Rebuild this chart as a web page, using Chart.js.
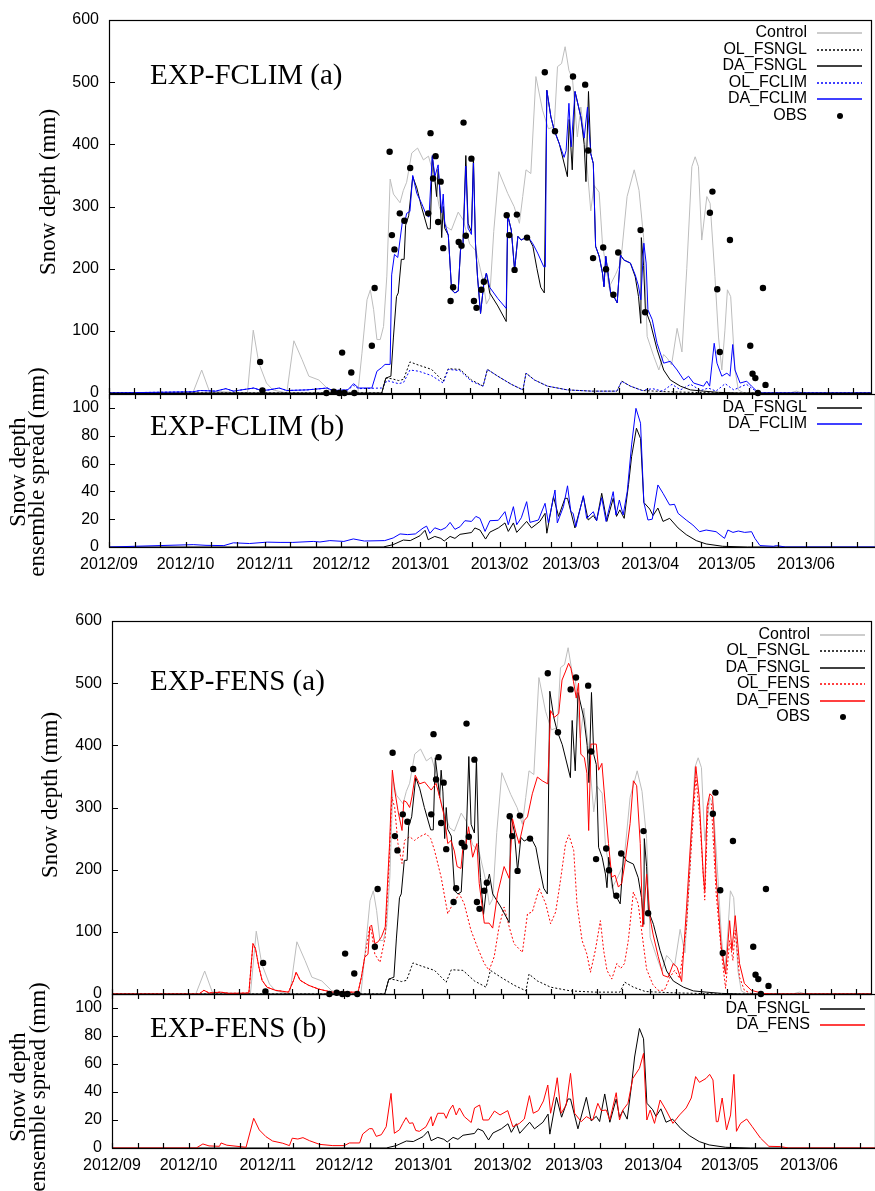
<!DOCTYPE html>
<html>
<head>
<meta charset="utf-8">
<script src="https://cdn.jsdelivr.net/npm/chart.js@4.4.0/dist/chart.umd.min.js"></script>
<style>
  html, body { margin: 0; padding: 0; background: #fff; }
  #wrap { position: relative; width: 875px; height: 1191px; overflow: hidden; }
  canvas { position: absolute; left: 0; }
</style>
</head>
<body>
<div id="wrap">
  <canvas id="c1" width="875" height="404" style="top:0px"></canvas>
  <canvas id="c2" width="875" height="230" style="top:350px"></canvas>
  <canvas id="c3" width="875" height="405" style="top:600px"></canvas>
  <canvas id="c4" width="875" height="231" style="top:960px"></canvas>
</div>
<script>
/* x = days since 2012-09-01, y = mm */
const monthStarts = [0, 30, 61, 91, 122, 153, 181, 212, 242, 273, 303];
const monthLabels = ['2012/09', '2012/10', '2012/11', '2012/12', '2013/01', '2013/02',
                     '2013/03', '2013/04', '2013/05', '2013/06', '2013/07'];
const depthTicks  = [0, 100, 200, 300, 400, 500, 600];
const spreadTicks = [0, 20, 40, 60, 80, 100];

/* ── snow depth (a) ── */
const control = [[0,0],[33,0],[36.5,37],[39.5,3],[54.5,0],[56.8,101],[59,48],[62,16],[64.5,5],[70,0],
  [72.8,84],[76,54],[78.7,27],[82.6,21],[86.6,5],[98,0],[99.6,64],[101.6,150],[102.9,166],[104.2,134],
  [105.5,86],[106.8,86],[108.1,107],[109.4,188],[110.7,344],[112,320],[114.6,306],[115.9,326],[117.2,339],
  [119.2,386],[121.5,394],[123.8,375],[125.8,381],[127.7,353],[130,300],[133,267],[134.8,262],[137.5,291],
  [139.5,278],[142,240],[144.6,228],[147.3,180],[148.6,143],[149.9,153],[151.5,260],[153.5,356],[157,321],
  [159.5,300],[161.6,273],[162.9,316],[164.2,359],[166.1,353],[168.1,509],[170.7,455],[173,425],[175.3,428],
  [176.6,525],[178.2,530],[179.6,557],[181.1,519],[182.5,505],[184.4,412],[185.8,460],[187.5,400],[189.7,293],
  [191,334],[193,323],[194.3,240],[196.9,170],[199.5,191],[201.5,210],[204,316],[206.8,359],[208.7,326],
  [210.5,250],[211.9,91],[214.5,59],[216.5,37],[218.4,62],[220,55],[221.5,45],[223.7,104],[225.6,66],
  [227.5,200],[229.5,364],[230.8,380],[232.1,364],[233.4,246],[235.4,316],[236.7,305],[238.6,187],[240,90],
  [241.3,37],[242.5,100],[243.5,166],[244.8,155],[246.5,37],[247.8,5],[250,0],[268,0],[270.7,3],[273,0],[300,0]];

const olFsngl = [[0,0],[107.4,0],[109,24],[111.3,23],[114,20],[116,22],[118.5,50],[121.8,45],[127,38],
  [131.6,19],[133.6,39],[138.2,38],[142.7,21],[147.3,11],[149,38],[153.1,27],[158.4,14],[163,5],[164.2,32],
  [167.5,21],[172.7,11],[180.5,5],[190,3],[200,3],[201.9,19],[205.3,11],[210,4],[220,2],[230,1],[240,0],[300,0]];

const daFsngl = [[0,0],[107.4,0],[109,24],[111,27],[112,90],[113.2,155],[113.9,161],[115.1,215],[116.2,215],
  [116.8,270],[118,285],[119.6,348],[121.2,330],[123,300],[125.5,264],[126.5,264],[127.3,380],[128.3,345],
  [129,316],[129.6,360],[130.3,325],[131,250],[131.6,300],[132.2,265],[133.6,254],[134.9,166],[136.2,161],
  [137.5,164],[138.4,230],[139.4,241],[140.5,382],[141.4,273],[142.7,259],[143.5,379],[144.3,241],[145.1,187],
  [146.3,128],[147.6,177],[148.6,193],[149.9,161],[153.1,140],[156.4,115],[157,286],[158.4,262],[159.7,198],
  [161,252],[162.3,246],[164.9,252],[166.9,236],[168.5,200],[170,170],[171.4,161],[172.4,487],[174,444],
  [175.3,423],[177.3,401],[180.5,348],[181.2,440],[182.4,359],[183.5,485],[185.8,444],[187.1,400],[187.8,340],
  [188.8,485],[189.7,385],[190.7,369],[191.6,236],[193,220],[194.3,193],[194.9,171],[195.6,220],[197.5,161],
  [198.8,155],[200.1,145],[201.4,222],[202.7,214],[205.3,209],[207.2,187],[208.5,155],[209.4,112],[209.6,250],
  [210.5,205],[211.2,134],[213.2,112],[215.8,70],[218.4,37],[221,21],[225,11],[228.9,5],[234,3],[240,1],
  [248,0],[300,0]];

const olFclim = [[0,0],[33,2],[36,4],[42,3],[46,7],[49,3],[57,8],[60,4],[63,5],[67,8],[70,4],[78,5],[86,8],
  [88,4],[94,5],[96.3,12],[98.3,7],[107.4,8],[109.5,20],[114,15],[116,17],[118.5,37],[122,35],[127,28],
  [131.6,16],[133.6,38],[138.2,36],[142.7,19],[147.3,11],[149,38],[153.1,27],[158.4,14],[163,5],[164.2,32],
  [167.5,21],[172.7,11],[180.5,5],[190,3],[200,3],[201.9,19],[205.3,11],[210,4],[214,7],[218,3],[221.7,14],
  [225,5],[229,14],[233,4],[236,8],[239,3],[242.6,15],[246,5],[251,14],[254,5],[256,0],[300,0]];

const daFclim = [[0,0],[33,2],[36,4],[42,3],[46,7],[49,3],[57,8],[60,4],[63,5],[67,8],[70,4],[78,5],[86,8],
  [88,4],[94,5],[96.3,15],[98.3,8],[103.5,8],[105.5,35],[107.4,41],[108.7,46],[110.7,46],[111.3,190],
  [112.4,223],[113.7,218],[115.5,275],[116.5,275],[117.2,289],[118.5,292],[119.6,350],[121.2,321],[123.1,305],
  [125,286],[126,283],[127.3,382],[128.3,348],[129.6,367],[130.3,325],[131,290],[131.6,320],[132.2,273],
  [133.6,254],[134.9,166],[136.2,161],[137.5,164],[138.4,230],[139.4,241],[140.5,365],[141.4,265],[142.7,255],
  [143.5,370],[144.3,241],[145.1,187],[146.3,128],[147.6,177],[148.6,193],[149.9,170],[153.1,152],[156.4,136],
  [157,286],[158.4,262],[159.7,198],[161,252],[162.3,246],[164.9,252],[166.9,240],[168.8,225],[171.2,203],
  [171.8,203],[172.4,487],[174,444],[175.3,423],[177.3,401],[179.2,379],[180,390],[181.1,466],[182,396],
  [183.5,485],[185.8,444],[187.1,410],[188.4,460],[189.7,385],[190.7,369],[191.6,236],[193,220],[194.3,193],
  [194.9,171],[195.6,220],[197.5,161],[198.8,155],[200.1,145],[201.4,222],[202.7,214],[205.3,209],[207.2,190],
  [208.5,172],[209.4,150],[210.6,241],[211.5,209],[212.2,134],[213.9,118],[215.8,80],[218.4,48],[221,51],
  [223.7,37],[226.3,21],[228.2,27],[230.2,16],[234.1,11],[235.4,19],[236.5,11],[238.3,80],[239.4,48],
  [241.3,27],[243.3,32],[244.5,27],[245.6,78],[246.5,37],[248.5,16],[251.1,19],[253,11],[255.6,1],[257,0],[300,0]];

const olFens = [[0,0],[34.3,0],[36.2,6],[38.2,1.6],[42.8,3],[46,1],[53.9,1.6],[55.5,81],[56.5,73],[57.8,44],
  [59.1,22],[61,11],[64.3,6],[69.5,3],[71.5,22],[72.5,35],[74.1,22],[77.4,14],[81.3,8],[86.5,3],[96.9,3],
  [98.2,27],[99.5,59],[101.5,108],[102.2,100],[103.5,64],[105.5,51],[107.6,92],[109,200],[110.2,317],
  [111.3,300],[112.6,242],[114.2,210],[115.2,247],[117.2,253],[119.1,247],[121.1,253],[123.7,258],[125.5,250],
  [127,231],[129.6,188],[132.2,129],[134.2,145],[136.8,161],[138.7,145],[141.3,103],[143.9,75],[146.6,49],
  [148.5,38],[150.5,60],[152.4,108],[154.4,140],[156.4,108],[158.3,81],[161.6,67],[163.6,129],[165.5,132],
  [168.2,170],[170.8,145],[172.7,113],[174.7,132],[176.6,183],[178.6,242],[179.9,256],[181.8,231],[183.1,145],
  [185.1,86],[187,64],[188.4,35],[190.3,70],[192.3,118],[193.6,70],[194.9,38],[196.8,24],[198.8,49],
  [200.3,41],[201.8,49],[203.3,86],[205.3,164],[207.2,145],[209.2,81],[210.5,40],[213,15],[215,6],[217.5,6],
  [219.7,27],[221.5,38],[223.5,25],[226.2,108],[228.2,242],[229.9,349],[231.4,285],[233.4,151],[234.7,306],
  [236,306],[237.9,161],[239.9,70],[241.6,9],[243.2,86],[244.5,54],[245.4,103],[247.1,27],[249,6],[252,0],[300,0]];

const daFens = [[0,0],[34.3,0],[36.2,6],[38.2,1.6],[42.8,3],[46,1],[53.9,1.6],[55.5,81],[56.5,73],[57.8,44],
  [59.1,22],[61,11],[64.3,6],[69.5,3],[71.5,22],[72.5,35],[74.1,22],[77.4,14],[81.3,8],[86.5,3],[96.9,3],
  [98.2,27],[99.5,59],[100.8,64],[101.5,108],[102.2,111],[103.5,81],[104.8,84],[106.1,92],[107.6,108],
  [109.3,242],[110.4,360],[111.3,328],[112.6,295],[114.2,263],[114.9,311],[115.9,309],[117.2,300],[118.1,317],
  [119.4,352],[121.1,338],[123.1,341],[125.7,328],[127.6,339],[129,317],[130.9,285],[132.2,242],[133.5,247],
  [134.8,230],[135.9,205],[137.4,202],[138.1,232],[139.4,242],[140.4,269],[142,220],[143.7,242],[144.6,178],
  [146.6,114],[148.5,114],[149.9,106],[151.8,161],[154.4,205],[156.4,186],[157.7,282],[159,260],[160.3,242],
  [162.3,279],[163.6,285],[165.5,322],[167.5,349],[169.4,343],[171.6,338],[172.7,456],[174.2,445],[175.9,451],
  [177.2,505],[178.5,518],[179.8,532],[180.7,524],[181.7,503],[182.8,476],[183.7,500],[184.6,386],[186,380],
  [187,355],[187.7,263],[188.6,402],[190.7,402],[191.6,360],[192.9,371],[194.2,306],[195.5,242],[196.8,188],
  [198.1,191],[199.4,172],[200.7,178],[202,211],[204,274],[205.3,343],[206.6,335],[208,242],[209,108],
  [210.5,193],[211.8,124],[213.1,95],[215.1,60],[217,30],[219,27],[221,49],[222.5,43],[224.3,20],[226.2,137],
  [228.2,269],[229.9,366],[231.2,317],[232.8,193],[233.4,166],[234.3,301],[235.4,322],[236.5,318],[237.9,188],
  [239.9,75],[241.6,32],[243.2,118],[244.1,70],[245.4,126],[247.1,49],[249,17],[251.7,6],[256.2,1],[260,0],[300,0]];

const obs = [[59.5,50],[60.4,4],[85.6,0],[88.5,2],[90.7,0],[92.7,0],[91.8,65],[95.4,33],[96.6,0],[103.5,76],
  [104.6,169],[110.5,388],[111.4,254],[112.4,231],[114.5,289],[116.3,277],[118.6,362],[125.7,289],[126.6,418],
  [127.6,345],[128.6,381],[129.6,275],[130.6,340],[131.6,233],[134.5,148],[135.5,170],[137.7,243],[138.8,237],
  [139.6,435],[140.5,253],[142.7,377],[143.7,148],[144.7,137],[146.6,166],[147.6,179],[156.6,286],[157.6,254],
  [159.7,198],[160.6,287],[164.6,250],[171.6,516],[175.6,421],[180.6,490],[182.7,509],[187.5,496],[188.7,390],
  [190.6,217],[194.6,234],[195.7,199],[198.6,158],[200.5,226],[209.3,262],[211.1,130],[236.6,290],[237.6,324],
  [239.5,167],[240.5,66],[244.5,246],[252.5,76],[253.4,31],[254.5,24],[255.5,0],[257.5,169],[258.5,13]];

/* ── ensemble spread (b) ── */
const sprFsngl = [[0,0],[107.4,0],[111.3,1.7],[115.3,5],[118,4.6],[121.8,8.1],[123.8,12],[125,5.2],[127.6,7.6],
  [130,6.2],[131.3,4.3],[133.6,7.6],[135.5,6.2],[137.5,9.1],[142,10.4],[143.3,13.7],[145.3,12.2],[147.5,5.7],
  [149.2,10.7],[152.5,13.7],[155.1,17.3],[156.4,11.2],[158.4,17.3],[159.7,10.5],[163.6,18.4],[165.5,13.7],
  [168.8,18.4],[170.8,24.2],[171.5,9.9],[174.1,36.2],[176.1,22],[178.6,35],[179.6,35],[182.5,13.7],[185.8,36.2],
  [187.7,19.4],[189.7,22.6],[191,18.9],[193,38.6],[195,18.4],[197.5,35],[198.8,22],[200.1,26.7],[201.8,20.6],
  [203.5,45],[204.7,65],[206.6,85.4],[208.2,78],[209.5,32],[211.8,27.3],[213.1,22.6],[215,28],[217,18.4],
  [219.6,20.6],[222.9,13.7],[226.1,8.9],[230,4.6],[233.9,2.2],[240.4,0.5],[250,0],[300,0]];

const sprFclim = [[0,0],[33,1.7],[38,1.2],[45,1],[48.7,3],[55,2.5],[62,3.5],[67,3.3],[72,3.3],[80,4],[82.6,3.6],
  [86.5,4.6],[92,4],[95.7,5.8],[100,4.3],[108,4.6],[111.3,6.5],[114,9.4],[117,8.9],[120,9.4],[123,13.6],
  [124.4,15],[125.7,9.8],[127.6,13.8],[130,12.2],[132,14],[133.6,17.7],[135.5,12.7],[137.5,14.6],[139.4,18.9],
  [142,18.4],[143.7,22],[145.3,20.6],[147.3,11.2],[149.2,18.9],[152.5,19.2],[155.1,25.4],[156.4,16],[158.4,29],
  [159.7,16],[161.5,21],[163.6,32.6],[164.9,17.7],[168.2,19.4],[170.8,31.4],[172.1,17.3],[174.7,41],[175.6,17.3],
  [178,29],[179.6,44],[180.9,25.4],[181.8,24.2],[182.9,14.6],[185.8,36.9],[187.1,20.6],[189.7,25.4],[191,18.9],
  [193,35.5],[194.7,18.4],[197.5,39.8],[198.6,23],[199.9,33.8],[201.4,23],[203,40],[204.7,73.4],[206.4,99.7],
  [208.2,89],[209.5,32],[211.1,19.4],[212.8,20],[215,44.6],[217,38.6],[219.6,30.2],[221.5,30.7],[222.9,24.2],
  [226.1,19.4],[228.7,15.8],[231.3,11],[233.9,12.2],[237.8,11],[241.1,6.2],[242.4,12.2],[244.4,10.5],
  [246.5,11.5],[249,10.5],[251.7,11],[253,6.2],[255,1],[260.2,0.5],[261.5,1],[265,0],[300,0]];

const sprFens = [[0,0],[33,0],[35.6,2.9],[38,1.5],[42.1,1.2],[42.7,3.6],[45,2],[52.5,0.5],[55.5,21.2],[57.7,12.9],
  [60.3,8.1],[62.9,5],[66.9,3.4],[69.5,1.7],[70.6,7],[72.8,6.4],[74.8,7.4],[77.4,5.2],[81.3,2.6],[86.5,1.7],
  [91,1.7],[93,3.6],[97,3.6],[98.2,10],[100.8,13.8],[102,13.8],[103.5,8.3],[105.5,9.5],[107.4,15.2],[109.3,39],
  [110.6,10.5],[112.6,13],[113.9,17.6],[115.2,21.7],[116.5,17.6],[117.8,18],[119,12.5],[120.4,11.9],[123,15.2],
  [125,22.4],[125.6,15.7],[127.6,24.8],[130,24.8],[130.9,21.2],[132.2,27.1],[133.5,30.7],[134.8,23.6],
  [136.1,28.6],[138,22.4],[140.7,18.2],[142,28.6],[144,30.7],[145.3,20],[147.5,20],[149.8,26.4],[152,23.6],
  [155,26.7],[157,15.2],[159.6,17.6],[161.5,20.7],[163.5,37.4],[165,24.8],[167,26.7],[169,33.6],[170.7,45],
  [171.8,24.8],[173.3,37.9],[174.4,50.2],[175.9,24.8],[177.9,30.7],[179.6,53.3],[181.2,24.8],[183.8,18.8],
  [185.8,22.4],[188.3,20],[190.3,31.9],[191.6,26.7],[193.6,27.1],[195,20],[197.5,39.5],[198.8,20],[200.1,27.1],
  [202.1,31.9],[204,49.7],[206.6,56.9],[208.2,67.6],[209,37.9],[209.5,20],[210.8,27.1],[212.5,17.6],[214.7,34.3],
  [217,27.1],[219.7,17.6],[222.3,23.6],[224.9,28.6],[226.9,35.7],[228.6,51],[230.1,46.9],[232.7,49.7],
  [234.1,52.6],[235.4,48.6],[236.7,18.8],[237.4,18.8],[239,35.7],[240.7,12.9],[242.3,23.6],[243.6,52.6],
  [244.6,11.9],[246.2,17.6],[248.6,20.7],[250.8,15.2],[254,7.1],[257.3,1.2],[261.9,1],[265,0],[300,0]];

/* ── styling ── */
const SANS  = "'Liberation Sans', Arial, Helvetica, sans-serif";
const SERIF = "'Liberation Serif', 'Times New Roman', Times, serif";
const GRAY = '#bdbdbd', BLUE = '#0000ff', RED = '#ff0000';
const DOT = [2, 2];

Chart.defaults.font.family = SANS;
Chart.defaults.font.size = 16;
Chart.defaults.color = '#000';

const pts = arr => arr.map(([x, y]) => ({ x, y }));

function line(label, data, color, dash, order) {
  return { label, data: pts(data), borderColor: color, backgroundColor: color, borderWidth: 1,
           borderDash: dash || [], pointRadius: 0, tension: 0, fill: false, order };
}
function dots(label, data) {
  return { label, data: pts(data), showLine: false, pointRadius: 3.2, pointBorderWidth: 0,
           pointBackgroundColor: '#000', borderColor: '#000', backgroundColor: '#000', order: 0, clip: false };
}

/* gnuplot-like frame: inward ticks, panel label, axis title, key */
const gnuFrame = {
  id: 'gnuFrame',
  afterDraw(chart, args, o) {
    const { ctx, chartArea: a, scales: { x, y } } = chart;
    ctx.save();
    ctx.strokeStyle = '#000';
    ctx.lineWidth = 1.2;
    ctx.strokeRect(a.left + 0.5, a.top + 0.5, a.right - a.left, a.bottom - a.top);
    ctx.beginPath();
    x.ticks.forEach(t => {
      const px = Math.round(x.getPixelForValue(t.value)) + 0.5;
      ctx.moveTo(px, a.bottom); ctx.lineTo(px, a.bottom - 5);
      if (o.topTicks) { ctx.moveTo(px, a.top); ctx.lineTo(px, a.top + 5); }
    });
    y.ticks.forEach(t => {
      const py = Math.round(y.getPixelForValue(t.value)) + 0.5;
      ctx.moveTo(a.left, py); ctx.lineTo(a.left + 6, py);
    });
    ctx.stroke();

    // panel label
    ctx.fillStyle = '#000';
    ctx.font = '29px ' + SERIF;
    ctx.textAlign = 'left';
    ctx.textBaseline = 'alphabetic';
    ctx.fillText(o.label, 150, o.labelY);

    // y title (rotated)
    ctx.font = '23px ' + SERIF;
    ctx.textAlign = 'center';
    ctx.textBaseline = 'middle';
    o.title.forEach((txt, i) => {
      ctx.save();
      ctx.translate(o.titleX[i], o.titleY);
      ctx.rotate(-Math.PI / 2);
      ctx.fillText(txt, 0, 0);
      ctx.restore();
    });

    // key
    ctx.font = '16px ' + SANS;
    ctx.textAlign = 'right';
    chart.data.datasets.forEach((ds, i) => {
      const ky = Math.round(o.keyY + i * o.keyStep);
      ctx.fillStyle = '#000';
      ctx.fillText(ds.label, o.keyX, ky);
      if (ds.showLine === false) {
        ctx.beginPath(); ctx.arc(o.keyX + 33, ky, 3, 0, 2 * Math.PI); ctx.fill();
      } else {
        ctx.strokeStyle = ds.borderColor;
        ctx.lineWidth = 1.4;
        ctx.setLineDash(ds.borderDash);
        ctx.beginPath(); ctx.moveTo(o.keyX + 10, ky); ctx.lineTo(o.keyX + 55, ky); ctx.stroke();
        ctx.setLineDash([]);
      }
    });
    ctx.restore();
  }
};

function panel(id, p) {
  const xMax = (875 - p.left) / 2.553;
  const xTicks = [];
  monthStarts.forEach(m => [0, 10, 20].forEach(k => { if (m + k <= xMax) xTicks.push(m + k); }));
  return new Chart(document.getElementById(id), {
    type: 'line',
    data: { datasets: p.datasets },
    plugins: [gnuFrame],
    options: {
      responsive: false,
      animation: false,
      events: [],
      layout: { padding: { top: p.padTop, left: 0, right: 0, bottom: 0 } },
      plugins: { legend: { display: false }, tooltip: { enabled: false }, gnuFrame: p.frame },
      scales: {
        x: {
          type: 'linear', min: 0, max: xMax,
          grid: { display: false, drawTicks: false },
          border: { display: false },
          afterBuildTicks: s => { s.ticks = xTicks.map(v => ({ value: v })); },
          afterFit: s => { s.height = p.xHeight; s.paddingLeft = 0; s.paddingRight = 0; },
          ticks: {
            display: p.xLabels, autoSkip: false, maxRotation: 0, minRotation: 0, padding: 8,
            font: { size: 16 },
            callback: v => { const i = monthStarts.indexOf(v); return i >= 0 ? monthLabels[i] : ''; }
          }
        },
        y: {
          min: 0, max: p.yMax,
          grid: { display: false, drawTicks: false },
          border: { display: false },
          afterBuildTicks: s => { s.ticks = p.yTicks.map(v => ({ value: v })); },
          afterFit: s => { s.width = p.left; s.paddingTop = 0; s.paddingBottom = 0; },
          ticks: { padding: 10, font: { size: 16 } }
        }
      }
    }
  });
}

panel('c1', {
  left: 109, padTop: 20, xHeight: 11, xLabels: false, yMax: 600, yTicks: depthTicks,
  datasets: [
    line('Control', control, GRAY, null, 6),
    line('OL_FSNGL', olFsngl, '#000', DOT, 5),
    line('DA_FSNGL', daFsngl, '#000', null, 3),
    line('OL_FCLIM', olFclim, BLUE, DOT, 4),
    line('DA_FCLIM', daFclim, BLUE, null, 2),
    dots('OBS', obs)
  ],
  frame: { topTicks: false, label: 'EXP-FCLIM (a)', labelY: 84,
           title: ['Snow depth (mm)'], titleX: [49], titleY: 192,
           keyX: 807, keyY: 33, keyStep: 16.5 }
});

panel('c2', {
  left: 109, padTop: 44, xHeight: 33, xLabels: true, yMax: 110, yTicks: spreadTicks,
  datasets: [
    line('DA_FSNGL', sprFsngl, '#000', null, 2),
    line('DA_FCLIM', sprFclim, BLUE, null, 1)
  ],
  frame: { topTicks: true, label: 'EXP-FCLIM (b)', labelY: 85,
           title: ['Snow depth', 'ensemble spread (mm)'], titleX: [19, 38], titleY: 122,
           keyX: 807, keyY: 58, keyStep: 16 }
});

panel('c3', {
  left: 112, padTop: 21, xHeight: 11, xLabels: false, yMax: 600, yTicks: depthTicks,
  datasets: [
    line('Control', control, GRAY, null, 6),
    line('OL_FSNGL', olFsngl, '#000', DOT, 5),
    line('DA_FSNGL', daFsngl, '#000', null, 3),
    line('OL_FENS', olFens, RED, DOT, 4),
    line('DA_FENS', daFens, RED, null, 2),
    dots('OBS', obs)
  ],
  frame: { topTicks: false, label: 'EXP-FENS (a)', labelY: 90,
           title: ['Snow depth (mm)'], titleX: [51], titleY: 195,
           keyX: 810, keyY: 35, keyStep: 16.4 }
});

panel('c4', {
  left: 112, padTop: 34, xHeight: 43, xLabels: true, yMax: 110, yTicks: spreadTicks,
  datasets: [
    line('DA_FSNGL', sprFsngl, '#000', null, 2),
    line('DA_FENS', sprFens, RED, null, 1)
  ],
  frame: { topTicks: true, label: 'EXP-FENS (b)', labelY: 77,
           title: ['Snow depth', 'ensemble spread (mm)'], titleX: [19, 39], titleY: 127,
           keyX: 810, keyY: 49, keyStep: 15.5 }
});
</script>
</body>
</html>
